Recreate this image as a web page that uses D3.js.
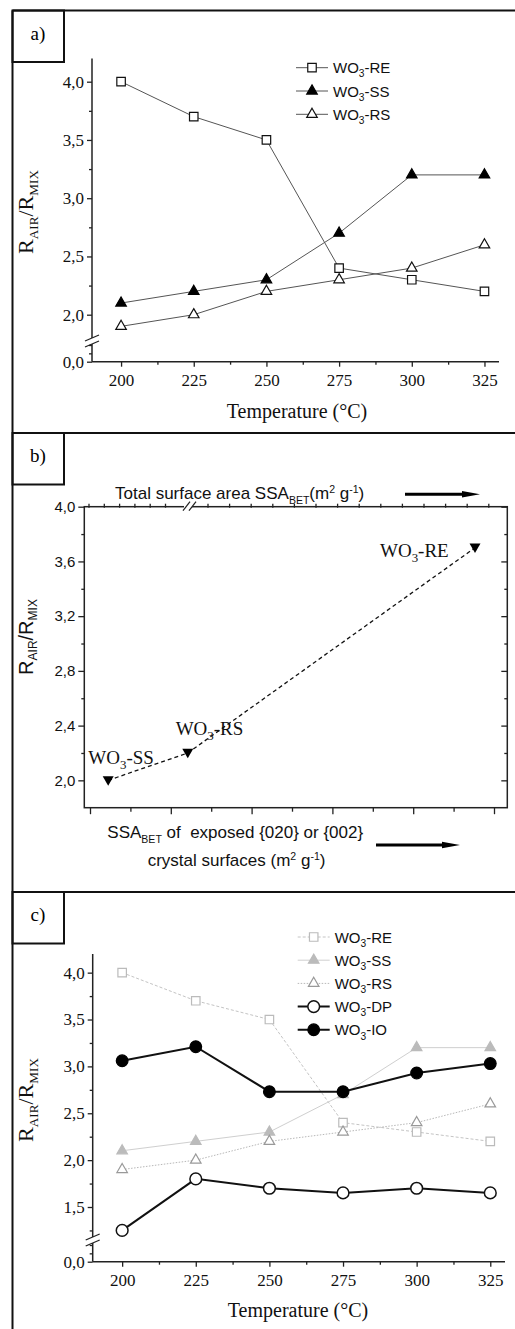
<!DOCTYPE html>
<html>
<head>
<meta charset="utf-8">
<script src="https://cdn.jsdelivr.net/npm/d3@7"></script>
<style>body { margin: 0; background: #fff; }</style>
</head>
<body>
<div id="viz"></div>
<script>
// --- data ---
const temps = [200, 225, 250, 275, 300, 325];
const minorTemps = [212.5, 237.5, 262.5, 287.5, 312.5];
const valRE = [4.0, 3.7, 3.5, 2.4, 2.3, 2.2];
const valSS = [2.1, 2.2, 2.3, 2.7, 3.2, 3.2];
const valRS = [1.9, 2.0, 2.2, 2.3, 2.4, 2.6];
const valDP = [1.25, 1.80, 1.70, 1.65, 1.70, 1.65];
const valIO = [3.06, 3.21, 2.73, 2.73, 2.93, 3.03];

const yMajorA = [0, 2.0, 2.5, 3.0, 3.5, 4.0];
const yMinorA = [0.2, 0.4, 2.25, 2.75, 3.25, 3.75];
const yMajorC = [0, 1.5, 2.0, 2.5, 3.0, 3.5, 4.0];
const yMinorC = [0.2, 0.4, 1.25, 1.75, 2.25, 2.75, 3.25, 3.75];

// panel b: samples along an unlabeled surface-area axis
const bNames = ['SS', 'RS', 'RE'];
const bPos = [0.45, 2.42, 9.53];
const bRatio = [2.0, 2.2, 3.7];
const bMajor = [2.0, 2.4, 2.8, 3.2, 3.6, 4.0];
const bMinor = [2.2, 2.6, 3.0, 3.4, 3.8];
const bBottomTicks = [0, 1, 2, 3, 4, 5, 6, 7, 8, 9, 10];

const serif = '"Liberation Serif", "Times New Roman", serif';
const sans = '"Liberation Sans", Arial, sans-serif';
const comma = d => d.toFixed(1).replace('.', ',');

const svg = d3.select('#viz')
      .append('svg')
      .attr('width', 515)
      .attr('height', 1329);

// outer frame and panel label boxes
const frame = svg.append('g')
      .attr('stroke', '#111')
      .attr('stroke-width', 2)
      .attr('fill', 'none');
frame.append('line').attr('x1', 12.5).attr('y1', 10.5).attr('x2', 12.5).attr('y2', 1329);
[10.5, 433, 892].forEach((top, i) => {
    frame.append('line').attr('x1', 12.5).attr('y1', top).attr('x2', 515).attr('y2', top);
    frame.append('rect').attr('x', 12.5).attr('y', top).attr('width', 51.5).attr('height', 51.5);
    svg.append('text')
        .attr('x', 38).attr('y', top + 29)
        .attr('text-anchor', 'middle')
        .attr('font-family', serif).attr('font-size', 19)
        .text(['a)', 'b)', 'c)'][i]);
});

function woText(sel, x, y, suffix, size, family) {
    const t = sel.append('text')
          .attr('x', x).attr('y', y)
          .attr('font-family', family).attr('font-size', size)
          .attr('fill', '#111');
    t.append('tspan').text('WO');
    t.append('tspan').attr('font-size', size * 0.68).attr('dy', size * 0.28).text('3');
    t.append('tspan').attr('dy', -size * 0.28).text('-' + suffix);
    return t;
}

function ratioLabel(sel, x, y, size, family) {
    const t = sel.append('text')
          .attr('transform', `translate(${x},${y}) rotate(-90)`)
          .attr('text-anchor', 'middle')
          .attr('font-family', family).attr('font-size', size)
          .attr('fill', '#111');
    t.append('tspan').text('R');
    t.append('tspan').attr('font-size', size * 0.6).attr('dy', size * 0.22).text('AIR');
    t.append('tspan').attr('dy', -size * 0.22).text('/R');
    t.append('tspan').attr('font-size', size * 0.6).attr('dy', size * 0.22).text('MIX');
}

function symbolPath(type, size) {
    return d3.symbol().type(type).size(size)();
}

function drawMarker(g, s, cx, cy) {
    return g.append('path')
        .attr('d', symbolPath(s.symbol, s.size))
        .attr('transform', `translate(${cx},${cy})`)
        .attr('fill', s.fill)
        .attr('stroke', s.stroke)
        .attr('stroke-width', s.markerWidth || 1.2);
}

function tempPanel(cfg) {
    const g = svg.append('g');
    const x = d3.scaleLinear().domain([190, 330]).range(cfg.xRange);
    const y = d3.scaleLinear().domain(cfg.yDomain).range(cfg.yRange);
    const x0 = cfg.xRange[0];
    const yb = y(0);

    const axes = g.append('g').attr('stroke', '#222').attr('stroke-width', 1.5);
    axes.append('line').attr('x1', x0).attr('x2', x0).attr('y1', y(4.2)).attr('y2', yb);
    axes.append('line').attr('x1', x0).attr('x2', cfg.xRange[1]).attr('y1', yb).attr('y2', yb);

    const yAx = g.append('g').attr('transform', `translate(${x0},0)`)
          .call(d3.axisLeft(y).tickValues(cfg.yMajor).tickSize(5).tickPadding(3).tickFormat(comma));
    const yMin = g.append('g').attr('transform', `translate(${x0},0)`)
          .call(d3.axisLeft(y).tickValues(cfg.yMinor).tickSize(3).tickFormat(''));
    const xAx = g.append('g').attr('transform', `translate(0,${yb})`)
          .call(d3.axisBottom(x).tickValues(temps).tickSize(5).tickPadding(7).tickFormat(d3.format('d')));
    const xMin = g.append('g').attr('transform', `translate(0,${yb})`)
          .call(d3.axisBottom(x).tickValues(minorTemps).tickSize(3).tickFormat(''));
    [yAx, yMin, xAx, xMin].forEach(a => {
        a.select('.domain').remove();
        a.selectAll('line').attr('stroke', '#222').attr('stroke-width', 1.3);
        a.selectAll('text').attr('font-family', serif).attr('font-size', 17).attr('fill', '#111');
    });

    // axis break
    const yBr = cfg.yBreak;
    g.append('rect').attr('x', x0 - 2).attr('y', yBr - 3).attr('width', 4).attr('height', 6).attr('fill', '#fff');
    [-3, 3].forEach(o => {
        g.append('line')
            .attr('x1', x0 - 7).attr('y1', yBr + o + 3)
            .attr('x2', x0 + 7).attr('y2', yBr + o - 3)
            .attr('stroke', '#222').attr('stroke-width', 1.3);
    });

    g.append('text')
        .attr('x', cfg.xLabel[0]).attr('y', cfg.xLabel[1])
        .attr('text-anchor', 'middle')
        .attr('font-family', serif).attr('font-size', 20)
        .attr('fill', '#111')
        .text('Temperature (°C)');
    ratioLabel(g, cfg.yLabel[0], cfg.yLabel[1], 22, serif);

    const line = d3.line().x((d, i) => x(temps[i])).y(d => y(d));
    cfg.series.forEach(s => {
        g.append('path')
            .attr('d', line(s.values))
            .attr('fill', 'none')
            .attr('stroke', s.lineColor)
            .attr('stroke-width', s.lineWidth)
            .attr('stroke-dasharray', s.dash || null);
    });
    cfg.series.forEach(s => {
        s.values.forEach((v, i) => drawMarker(g, s, x(temps[i]), y(v)));
    });

    // legend
    cfg.series.forEach((s, i) => {
        const ly = cfg.legend.y + i * cfg.legend.step;
        g.append('line')
            .attr('x1', cfg.legend.x).attr('x2', cfg.legend.x + 32)
            .attr('y1', ly).attr('y2', ly)
            .attr('stroke', s.lineColor).attr('stroke-width', s.lineWidth)
            .attr('stroke-dasharray', s.dash || null);
        drawMarker(g, s, cfg.legend.x + 16, ly);
        woText(g, cfg.legend.x + 37, ly + 5.5, s.name, 15, sans);
    });
}

const triUp = d3.symbolTriangle;

tempPanel({
    xRange: [92, 499],
    yDomain: [0, 0.4, 1.8, 4.2],
    yRange: [361.7, 345, 338, 58.4],
    yMajor: yMajorA,
    yMinor: yMinorA,
    yBreak: 341,
    xLabel: [297, 418],
    yLabel: [33, 212],
    legend: { x: 296, y: 67.7, step: 23.3 },
    series: [
        { name: 'RE', values: valRE, symbol: d3.symbolSquare, size: 72, fill: '#fff', stroke: '#111', lineColor: '#555', lineWidth: 1 },
        { name: 'SS', values: valSS, symbol: triUp, size: 48, fill: '#000', stroke: '#000', lineColor: '#555', lineWidth: 1 },
        { name: 'RS', values: valRS, symbol: triUp, size: 48, fill: '#fff', stroke: '#111', lineColor: '#555', lineWidth: 1 }
    ]
});

tempPanel({
    xRange: [92.7, 505],
    yDomain: [0, 0.4, 1.18, 4.2],
    yRange: [1261.7, 1245, 1237, 953.9],
    yMajor: yMajorC,
    yMinor: yMinorC,
    yBreak: 1240,
    xLabel: [298, 1317],
    yLabel: [33, 1100],
    legend: { x: 297.7, y: 937, step: 23.2 },
    series: [
        { name: 'RE', values: valRE, symbol: d3.symbolSquare, size: 72, fill: '#fff', stroke: '#bbb', lineColor: '#c4c4c4', lineWidth: 1, dash: '3,2' },
        { name: 'SS', values: valSS, symbol: triUp, size: 48, fill: '#bbb', stroke: '#bbb', lineColor: '#cfcfcf', lineWidth: 1 },
        { name: 'RS', values: valRS, symbol: triUp, size: 48, fill: '#fff', stroke: '#999', lineColor: '#b8b8b8', lineWidth: 1, dash: '1.5,1.5' },
        { name: 'DP', values: valDP, symbol: d3.symbolCircle, size: 108, fill: '#fff', stroke: '#111', lineColor: '#111', lineWidth: 2, markerWidth: 1.5 },
        { name: 'IO', values: valIO, symbol: d3.symbolCircle, size: 108, fill: '#000', stroke: '#000', lineColor: '#111', lineWidth: 2 }
    ]
});

// --- panel b ---
const gb = svg.append('g');
const bLeft = 84.3, bRight = 507.3;
const xb = d3.scaleLinear().domain([0, 10]).range([90, 494]);
const yb = d3.scaleLinear().domain([1.8, 4.0]).range([807.7, 506.7]);

gb.append('rect')
    .attr('x', bLeft).attr('y', yb(4.0))
    .attr('width', bRight - bLeft).attr('height', yb(1.8) - yb(4.0))
    .attr('fill', 'none').attr('stroke', '#222').attr('stroke-width', 1.5);

const bl = gb.append('g').attr('transform', `translate(${bLeft},0)`)
      .call(d3.axisLeft(yb).tickValues(bMajor).tickSize(6).tickPadding(3).tickFormat(comma));
const blm = gb.append('g').attr('transform', `translate(${bLeft},0)`)
      .call(d3.axisLeft(yb).tickValues(bMinor).tickSize(3).tickFormat(''));
const br = gb.append('g').attr('transform', `translate(${bRight},0)`)
      .call(d3.axisLeft(yb).tickValues(bMajor).tickSize(6).tickFormat(''));
const brm = gb.append('g').attr('transform', `translate(${bRight},0)`)
      .call(d3.axisLeft(yb).tickValues(bMinor).tickSize(3).tickFormat(''));
const bb = gb.append('g').attr('transform', `translate(0,${yb(1.8)})`)
      .call(d3.axisBottom(xb).tickValues(bBottomTicks).tickSize(0).tickFormat(''));
bb.selectAll('.tick line').attr('y2', d => d % 2 === 0 ? 6.5 : 4);

// top axis (total surface area), with a break
const topLeft = d3.range(0, 6).map(i => 89 + i * 15.3);
const topRight = d3.range(0, 14).map(i => 208 + i * 21.6);
const topTicks = topLeft.concat(topRight);
gb.append('g').selectAll('line').data(topTicks).join('line')
    .attr('x1', d => d).attr('x2', d => d)
    .attr('y1', yb(4.0) - 3).attr('y2', yb(4.0) + 1);

[bl, blm, br, brm, bb].forEach(a => {
    a.select('.domain').remove();
    a.selectAll('line').attr('stroke', '#222').attr('stroke-width', 1.3);
    a.selectAll('text').attr('font-family', sans).attr('font-size', 15).attr('fill', '#111');
});
gb.selectAll('g > line').attr('stroke', '#222').attr('stroke-width', 1.3);

// break on top axis
gb.append('rect').attr('x', 184).attr('y', yb(4.0) - 2).attr('width', 8).attr('height', 4).attr('fill', '#fff');
[183, 189].forEach(x0 => {
    gb.append('line')
        .attr('x1', x0).attr('y1', yb(4.0) + 4)
        .attr('x2', x0 + 7).attr('y2', yb(4.0) - 5)
        .attr('stroke', '#222').attr('stroke-width', 1.2);
});

// dashed trend line and points
gb.append('path')
    .attr('d', d3.line()
          .x((d, i) => xb(bPos[i])).y(d => yb(d))(bRatio))
    .attr('fill', 'none')
    .attr('stroke', '#111')
    .attr('stroke-width', 1.3)
    .attr('stroke-dasharray', '4,3');

bRatio.forEach((v, i) => {
    gb.append('path')
        .attr('d', symbolPath(d3.symbolTriangle, 52))
        .attr('transform', `translate(${xb(bPos[i])},${yb(v) - 1}) rotate(180)`)
        .attr('fill', '#000');
});

const bLabelPos = { SS: [88.3, 764], RS: [175.7, 735], RE: [380, 556.7] };
bNames.forEach(n => woText(gb, bLabelPos[n][0], bLabelPos[n][1], n, 19, serif));

ratioLabel(gb, 33, 637, 20, sans);

function supSubText(sel, x, y, parts, size) {
    const t = sel.append('text')
          .attr('x', x).attr('y', y)
          .attr('font-family', sans).attr('font-size', size)
          .attr('fill', '#111')
          .style('white-space', 'pre');
    let shift = 0;
    parts.forEach(p => {
        const target = p.sub ? size * 0.3 : p.sup ? -size * 0.38 : 0;
        const ts = t.append('tspan').attr('dy', target - shift).text(p.t);
        if (p.sub || p.sup) ts.attr('font-size', size * 0.62);
        shift = target;
    });
}

supSubText(gb, 115, 499, [
    { t: 'Total surface area SSA' }, { t: 'BET', sub: true }, { t: '(m' },
    { t: '2', sup: true }, { t: ' g' }, { t: '-1', sup: true }, { t: ')' }
], 17);
supSubText(gb, 107.3, 838, [
    { t: 'SSA' }, { t: 'BET', sub: true }, { t: ' of  exposed {020} or {002}' }
], 17);
supSubText(gb, 147.7, 866, [
    { t: 'crystal surfaces (m' }, { t: '2', sup: true }, { t: ' g' },
    { t: '-1', sup: true }, { t: ')' }
], 17);

function arrow(sel, x1, x2, yy) {
    sel.append('line')
        .attr('x1', x1).attr('x2', x2 - 12)
        .attr('y1', yy).attr('y2', yy)
        .attr('stroke', '#000').attr('stroke-width', 3);
    sel.append('path')
        .attr('d', `M${x2 - 18},${yy - 3.2}L${x2},${yy}L${x2 - 18},${yy + 3.2}Z`)
        .attr('fill', '#000');
}
arrow(gb, 405, 480, 494.3);
arrow(gb, 376, 460, 845);
</script>
</body>
</html>
